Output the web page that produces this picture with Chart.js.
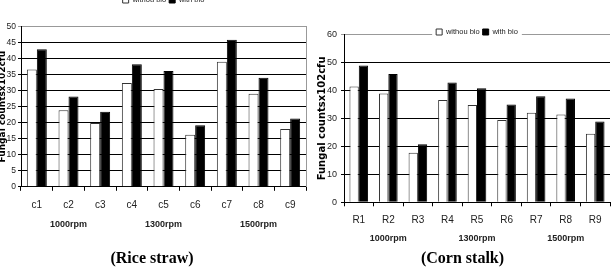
<!DOCTYPE html>
<html>
<head>
<meta charset="utf-8">
<script src="https://cdn.jsdelivr.net/npm/chart.js@4.4.1/dist/chart.umd.min.js"></script>
<style>
  html, body { margin: 0; padding: 0; background: #fff; overflow: hidden; width: 611px; height: 270px; }
  .box { position: absolute; top: 0; height: 270px; }
  #left { left: 0; width: 348px; }
  #right { left: 300px; width: 338px; }
</style>
</head>
<body>
<div class="box" id="left"><canvas id="riceChart"></canvas></div>
<div class="box" id="right"><canvas id="cornChart"></canvas></div>
<script>
// rice straw
const riceLabels = ['c1', 'c2', 'c3', 'c4', 'c5', 'c6', 'c7', 'c8', 'c9'];
const riceWithout = [36.6, 23.9, 19.9, 32.4, 30.5, 16.2, 39.0, 29.0, 18.0];
const riceWith = [42.9, 28.2, 23.4, 38.2, 36.1, 19.2, 45.9, 34.0, 21.3];

// corn stalk
const cornLabels = ['R1', 'R2', 'R3', 'R4', 'R5', 'R6', 'R7', 'R8', 'R9'];
const cornWithout = [41.4, 38.9, 17.7, 36.6, 34.8, 29.4, 32.0, 31.4, 24.5];
const cornWith = [48.9, 45.9, 20.8, 42.8, 40.8, 35.0, 37.9, 37.1, 28.9];

const speedLabels = ['', '1000rpm', '', '', '1300rpm', '', '', '1500rpm', ''];

const sans = "'Liberation Sans', Arial, sans-serif";

// moves the legend onto the top line of the plot, with a white patch behind it
const legendOnLine = {
    id: 'legendOnLine',
    afterLayout(chart, args, opts) {
        const lg = chart.legend, area = chart.chartArea;
        if (!lg) return;
        const h = lg.height;
        lg.left = area.left;
        lg.right = area.right;
        lg.width = area.right - area.left;
        lg.top = area.top + opts.dy - h / 2;
        lg.bottom = lg.top + h;
    },
    afterDraw(chart, args, opts) {
        const lg = chart.legend;
        if (!lg || !lg.legendHitBoxes || !lg.legendHitBoxes.length) return;
        const boxes = lg.legendHitBoxes;
        const x0 = Math.min(...boxes.map(b => b.left)) - 4;
        const x1 = Math.max(...boxes.map(b => b.left + b.width)) + 4;
        const y0 = Math.min(...boxes.map(b => b.top)) - 1;
        const y1 = Math.max(...boxes.map(b => b.top + b.height)) + 1;
        const ctx = chart.ctx;
        ctx.save();
        ctx.fillStyle = '#fff';
        ctx.fillRect(x0, y0, x1 - x0, y1 - y0);
        ctx.restore();
        lg.draw();
    }
};

function makeChart(id, labels, without, withBio, yMax, yStep, title, o) {
    const ctx = document.getElementById(id).getContext('2d');
    return new Chart(ctx, {
        type: 'bar',
        data: {
            labels: labels,
            datasets: [
                {
                    label: 'withou bio',
                    data: without,
                    backgroundColor: '#fff',
                    borderColor: '#333',
                    borderWidth: 1,
                    categoryPercentage: 0.63,
                    barPercentage: 1
                },
                {
                    label: 'with bio',
                    data: withBio,
                    backgroundColor: '#000',
                    borderColor: '#000',
                    borderWidth: 1,
                    categoryPercentage: 0.63,
                    barPercentage: 1
                }
            ]
        },
        options: {
            responsive: true,
            maintainAspectRatio: false,
            animation: false,
            layout: { padding: o.padding },
            scales: {
                x: {
                    offset: true,
                    grid: { offset: true, drawOnChartArea: false, drawTicks: true, tickLength: 4, color: '#000' },
                    border: { color: '#000', width: 1 },
                    ticks: { color: '#222', font: { family: sans, size: 10 }, padding: o.xPad, maxRotation: 0 },
                    afterFit: s => { s.height = 4 + o.xPad + 12; }
                },
                x2: {
                    type: 'category',
                    labels: speedLabels,
                    position: 'bottom',
                    offset: true,
                    grid: { display: false, drawTicks: false },
                    border: { display: false },
                    ticks: { color: '#222', font: { family: sans, size: 9, weight: 'bold' }, padding: o.x2Pad, autoSkip: false, maxRotation: 0 },
                    afterFit: s => { s.height = o.x2Pad + 11; }
                },
                y: {
                    min: 0,
                    max: yMax,
                    ticks: { stepSize: yStep, autoSkip: false, color: '#222', font: { family: sans, size: o.yFont }, padding: o.yPad },
                    grid: {
                        color: c => (c.tick && c.tick.value === yMax) ? '#999' : '#000',
                        tickLength: 3,
                        lineWidth: 1
                    },
                    border: { color: '#000', width: 1 },
                    title: {
                        display: true,
                        text: 'Fungal countsx102cfu',
                        color: '#000',
                        font: { family: "'DejaVu Sans', sans-serif", size: o.titleFont, weight: 'bold' },
                        padding: { top: o.titlePad, bottom: 0 }
                    },
                    afterFit: s => { s.width = o.yWidth; }
                },
                y2: {
                    display: o.rightBorder,
                    position: 'right',
                    grid: { drawOnChartArea: false, drawTicks: false },
                    ticks: { display: false },
                    border: { color: '#999', width: 1 },
                    afterFit: s => { s.width = 1; }
                }
            },
            plugins: {
                legend: {
                    display: true,
                    position: 'top',
                    labels: { color: '#222', font: { family: sans, size: 7.5 }, boxWidth: 6, boxHeight: 6, padding: 3 }
                },
                legendOnLine: { dy: o.legendDy },
                title: {
                    display: true,
                    position: 'bottom',
                    text: title,
                    color: '#000',
                    font: { family: "'Liberation Serif', 'Times New Roman', serif", size: 16, weight: 'bold' },
                    padding: { top: o.tTop, bottom: 2 }
                },
                tooltip: { enabled: false }
            }
        },
        plugins: [legendOnLine]
    });
}

makeChart('riceChart', riceLabels, riceWithout, riceWith, 50, 5, '(Rice straw)', {
    padding: { left: -3, right: 41, top: 6, bottom: 0 },
    xPad: 8, x2Pad: 8, yPad: 2, yWidth: 24, titlePad: 0, titleFont: 9, yFont: 8.5, tTop: 19,
    legendDy: -23, rightBorder: true
});
makeChart('cornChart', cornLabels, cornWithout, cornWith, 60, 10, '(Corn stalk)', {
    padding: { left: 14, right: 27, top: 14, bottom: 0 },
    xPad: 8, x2Pad: 7, yPad: 4, yWidth: 30, titlePad: 2, titleFont: 10, yFont: 9, tTop: 4.5,
    legendDy: 1, rightBorder: false
});
</script>
</body>
</html>
